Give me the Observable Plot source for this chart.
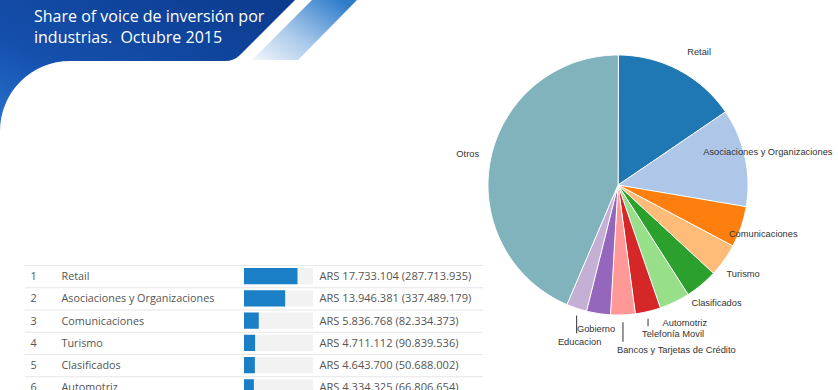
<!DOCTYPE html>
<html>
<head>
<meta charset="utf-8">
<script src="https://cdn.jsdelivr.net/npm/d3@7"></script>
<script src="https://cdn.jsdelivr.net/npm/@observablehq/plot@0.6"></script>
<style>
  html, body { margin: 0; padding: 0; background: #fff; }
  body { width: 838px; height: 390px; overflow: hidden; position: relative; }
  #bg { position: absolute; left: 0; top: 0; }
  #title { position: absolute; left: 34px; top: 6px; color: #fff; font-family: "Open Sans", sans-serif; font-size: 16px; line-height: 21px; white-space: pre; }
  #pie { position: absolute; left: 400px; top: 20px; }
  #table { position: absolute; left: 0px; top: 255px; }
</style>
</head>
<body>
<svg id="bg" width="838" height="140">
  <defs>
    <linearGradient id="navy" x1="0" y1="1" x2="1" y2="0">
      <stop offset="0" stop-color="#2a72cf"/>
      <stop offset="0.35" stop-color="#1550ad"/>
      <stop offset="1" stop-color="#0b3a8c"/>
    </linearGradient>
    <linearGradient id="stripe" x1="0" y1="1" x2="1" y2="0.2">
      <stop offset="0" stop-color="#f2f6fb"/>
      <stop offset="0.45" stop-color="#a9c9ea"/>
      <stop offset="1" stop-color="#2f7ccb"/>
    </linearGradient>
  </defs>
  <path d="M0,0 H295 L240,55 Q234,61 225,61 H70 A70,70 0 0 0 0,131 Z" fill="url(#navy)"/>
  <path d="M312,0 H357 L298,60 H252 Z" fill="url(#stripe)"/>
</svg>
<div id="title">Share of voice de inversión por
industrias.  Octubre 2015</div>
<div id="pie"></div>
<div id="table"></div>
<script>
// ---- data ----
const sliceNames = ["Retail", "Asociaciones y Organizaciones", "Comunicaciones", "Turismo", "Clasificados", "Automotriz", "Telefonía Movil", "Bancos y Tarjetas de Crédito", "Gobierno", "Educacion", "Otros"];
const sliceValues = [17733104, 13946381, 5836768, 4711112, 4643700, 4334325, 3600000, 3500000, 3400000, 2900000, 49900000];
const sliceColors = ["#1f77b4", "#aec7e8", "#ff7f0e", "#ffbb78", "#2ca02c", "#98df8a", "#d62728", "#ff9896", "#9467bd", "#c5b0d5", "#80b3bc"];

const tableRanks = [1, 2, 3, 4, 5, 6];
const tableNames = ["Retail", "Asociaciones y Organizaciones", "Comunicaciones", "Turismo", "Clasificados", "Automotriz"];
const tableInvestment = [17733104, 13946381, 5836768, 4711112, 4643700, 4334325];
const tableSecondary = [287713935, 337489179, 82334373, 90839536, 50688002, 66806654];

// ---- pie ----
const pieW = 438, pieH = 360, cx = 217.5, cy = 164.5, R = 130;
const arcs = d3.pie().sort(null).value(d => d)(sliceValues);
const slicePts = [];
arcs.forEach((a, i) => {
  slicePts.push({name: sliceNames[i], x: 0, y: 0});
  const n = Math.max(2, Math.ceil((a.endAngle - a.startAngle) / (Math.PI / 180)));
  for (let k = 0; k <= n; k++) {
    const t = a.startAngle + (a.endAngle - a.startAngle) * k / n;
    slicePts.push({name: sliceNames[i], x: Math.sin(t), y: -Math.cos(t)});
  }
});
// label layout (leader labels for crowded bottom slices)
const leaderDepth = {"Telefonía Movil": 1.15, "Bancos y Tarjetas de Crédito": 1.27, "Educacion": 1.205};
const labelR = {"Gobierno": 1.12, "Retail": 1.2};
const labelShift = {"Retail": 0.06};
const normalLabels = [], leaderStart = [], leaderMid = [], leaderLines = [];
arcs.forEach((a, i) => {
  const name = sliceNames[i];
  const m = (a.startAngle + a.endAngle) / 2 + (labelShift[name] || 0);
  if (leaderDepth[name]) {
    const ex = Math.sin(m), ey = -Math.cos(m);
    const ly = leaderDepth[name];
    leaderLines.push({x: ex, y1: ey + 0.06, y2: ly - 0.06});
    const lab = {name, x: ex, y: ly};
    if (m < Math.PI) leaderStart.push(lab); else leaderMid.push(lab);
  } else {
    const r = labelR[name] || 1.18;
    normalLabels.push({name, x: Math.sin(m) * r, y: -Math.cos(m) * r});
  }
});

const labelFont = {fontFamily: "Liberation Sans, Arial, sans-serif", fontSize: 9.3, fill: "#333"};
const pie = Plot.plot({
  width: pieW, height: pieH,
  margin: 0,
  x: {domain: [-cx / R, (pieW - cx) / R], axis: null},
  y: {domain: [-cy / R, (pieH - cy) / R], range: [0, pieH], axis: null},
  color: {domain: sliceNames, range: sliceColors},
  marks: [
    Plot.line(slicePts, {x: "x", y: "y", z: "name", fill: "name", stroke: "white", strokeWidth: 1, curve: "linear-closed"}),
    Plot.ruleX(leaderLines, {x: "x", y1: "y1", y2: "y2", stroke: "#333", strokeWidth: 1}),
    Plot.text(normalLabels, {x: "x", y: "y", text: "name", ...labelFont}),
    Plot.text(leaderStart, {x: "x", y: "y", text: "name", textAnchor: "start", dx: -6, ...labelFont}),
    Plot.text(leaderMid, {x: "x", y: "y", text: "name", textAnchor: "middle", dx: 3, ...labelFont})
  ]
});
document.getElementById("pie").append(pie);

// ---- table ----
const loc = d3.formatLocale({decimal: ",", thousands: ".", grouping: [3], currency: ["", ""]});
const fmt = loc.format(",d");
const rows = tableRanks.map((r, i) => ({
  rank: r, name: tableNames[i], value: tableInvestment[i],
  label: `ARS ${fmt(tableInvestment[i])} (${fmt(tableSecondary[i])})`
}));
const barDomain = [1300000, 22500000];
const tFont = {fontFamily: "Open Sans, sans-serif", fill: "#555", frameAnchor: "left", textAnchor: "start"};
const table = Plot.plot({
  width: 490, height: 150,
  marginTop: 10, marginBottom: 6.5, marginLeft: 25, marginRight: 7,
  x: {domain: barDomain, range: [244, 313], axis: null},
  y: {domain: [0.5, 6.5], range: [10, 143.5], axis: null},
  marks: [
    Plot.ruleY(rows, {y: d => d.rank - 0.5, stroke: "#e6e6e6", strokeWidth: 1}),
    Plot.rectX(rows, {x1: barDomain[0], x2: barDomain[1], y1: d => d.rank - 0.5, y2: d => d.rank + 0.5, insetTop: 3, insetBottom: 3, fill: "#f2f2f2"}),
    Plot.rectX(rows, {x1: barDomain[0], x2: "value", y1: d => d.rank - 0.5, y2: d => d.rank + 0.5, insetTop: 3, insetBottom: 3, fill: "#1b7fc6"}),
    Plot.text(rows, {y: "rank", text: d => String(d.rank), dx: 5, fontSize: 10.8, ...tFont}),
    Plot.text(rows, {y: "rank", text: "name", dx: 36, fontSize: 10.8, ...tFont}),
    Plot.text(rows, {y: "rank", text: "label", dx: 294, fontSize: 11.1, ...tFont})
  ]
});
document.getElementById("table").append(table);
</script>
</body>
</html>
